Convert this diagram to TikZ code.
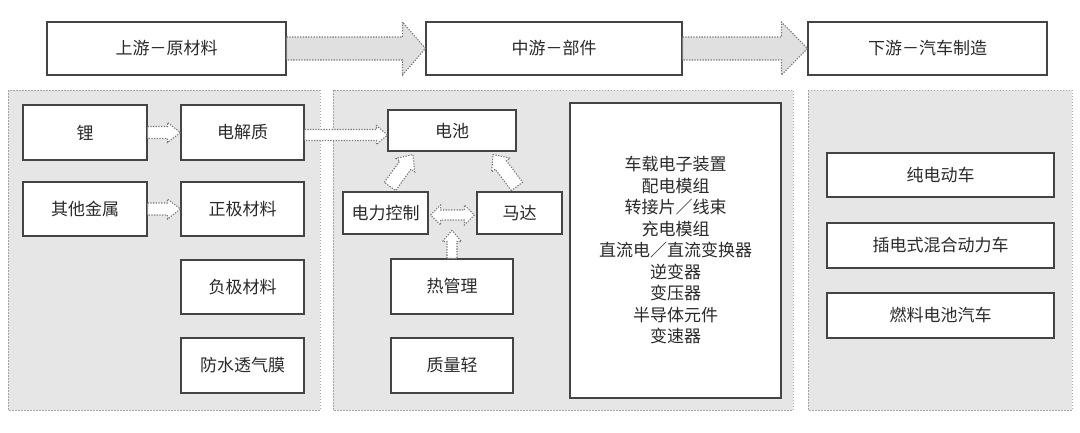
\documentclass[tikz,border=0pt]{standalone}
\usepackage{fontspec}
\setmainfont{Noto Sans CJK SC}
\usetikzlibrary{calc}
\definecolor{panelgray}{HTML}{E6E6E6}
\definecolor{arrowgray}{HTML}{E0E0E0}
\definecolor{txt}{HTML}{2A2A2A}
\definecolor{bord}{HTML}{444444}
\definecolor{dotc}{HTML}{777777}
\tikzset{
  box/.style={draw=bord, line width=1.1pt, fill=white, text=txt, inner sep=0pt,
    font=\fontsize{17}{19}\selectfont},
  panel/.style={draw=gray!70, fill=panelgray, line width=0.7pt, dash pattern=on 1.5pt off 1.5pt},
  blockarrow/.style={fill=white, draw=dotc, line width=1.1pt, dash pattern=on 1.3pt off 1.4pt},
  toparrow/.style={fill=arrowgray, draw=dotc, line width=1.1pt, dash pattern=on 1.3pt off 1.4pt},
}
% #1 style, #2 start, #3 end, #4 shaft half width, #5 head half width, #6 head length
\newcommand\blockarr[6]{%
\path[#1] let \p1=($(#3)-(#2)$), \n1={atan2(\y1,\x1)}, \n2={veclen(\x1,\y1)} in
 ($(#2)+(\n1+90:#4)$) -- ($(#2)+(\n1:{\n2-#6})+(\n1+90:#4)$) -- ($(#2)+(\n1:{\n2-#6})+(\n1+90:#5)$)
 -- (#3) -- ($(#2)+(\n1:{\n2-#6})+(\n1-90:#5)$) -- ($(#2)+(\n1:{\n2-#6})+(\n1-90:#4)$)
 -- ($(#2)+(\n1-90:#4)$) -- cycle;}
\newcommand\dblarr[6]{%
\path[#1] let \p1=($(#3)-(#2)$), \n1={atan2(\y1,\x1)}, \n2={veclen(\x1,\y1)} in
 (#2) -- ($(#2)+(\n1:#6)+(\n1+90:#5)$) -- ($(#2)+(\n1:#6)+(\n1+90:#4)$)
 -- ($(#2)+(\n1:{\n2-#6})+(\n1+90:#4)$) -- ($(#2)+(\n1:{\n2-#6})+(\n1+90:#5)$)
 -- (#3) -- ($(#2)+(\n1:{\n2-#6})+(\n1-90:#5)$) -- ($(#2)+(\n1:{\n2-#6})+(\n1-90:#4)$)
 -- ($(#2)+(\n1:#6)+(\n1-90:#4)$) -- ($(#2)+(\n1:#6)+(\n1-90:#5)$) -- cycle;}
\begin{document}
\begin{tikzpicture}[x=1pt,y=1pt]
\useasboundingbox (0,0) rectangle (1080,-432);
% panels
\path[panel] (8,-90) rectangle (320,-410);
\path[panel] (333,-90) rectangle (793,-410);
\path[panel] (808,-90) rectangle (1072,-410);
% top row
\node[box, minimum width=239pt, minimum height=53pt] (up) at (166.5,-48.5) {上游－原材料};
\node[box, minimum width=256pt, minimum height=53pt] (mid) at (554,-48.5) {中游－部件};
\node[box, minimum width=239pt, minimum height=53pt] (down) at (927.5,-48.5) {下游－汽车制造};
\blockarr{toparrow}{up.east}{mid.west}{11.5}{26.5}{23}
\blockarr{toparrow}{mid.east}{down.west}{11.5}{26.5}{26}
% left panel
\node[box, minimum width=124pt, minimum height=55pt] (li) at (85,-132.5) {锂};
\node[box, minimum width=123pt, minimum height=55pt] (dj) at (242.5,-132.5) {电解质};
\node[box, minimum width=124pt, minimum height=54pt] (qt) at (85,-209) {其他金属};
\node[box, minimum width=123pt, minimum height=54pt] (zj) at (242.5,-209) {正极材料};
\node[box, minimum width=123pt, minimum height=54pt] (fj) at (242.5,-287) {负极材料};
\node[box, minimum width=123pt, minimum height=55pt] (fs) at (242.5,-365.5) {防水透气膜};
\blockarr{blockarrow}{li.east}{dj.west}{6}{10}{13}
\blockarr{blockarrow}{qt.east}{zj.west}{6}{10}{13}
% middle panel
\node[box, minimum width=128pt, minimum height=41pt] (bat) at (452,-130.5) {电池};
\node[box, minimum width=85pt, minimum height=42pt] (pc) at (385.5,-213) {电力控制};
\node[box, minimum width=85pt, minimum height=42pt] (mo) at (519.5,-213) {马达};
\node[box, minimum width=122pt, minimum height=55pt] (th) at (452,-286.5) {热管理};
\node[box, minimum width=122pt, minimum height=55pt] (lt) at (452,-365.5) {质量轻};
\node[box, minimum width=211pt, minimum height=295pt, align=center,
  font=\fontsize{17}{21.5}\selectfont] (parts) at (675.5,-250.5)
  {车载电子装置\\配电模组\\转接片／线束\\充电模组\\直流电／直流变换器\\逆变器\\变压器\\半导体元件\\变速器};
\coordinate (djb) at ($(dj.east)+(0,-2.5)$);
\coordinate (batin) at (bat.west |- djb);
\blockarr{blockarrow}{djb}{batin}{5.5}{9.5}{11}
\coordinate (pcs) at ($(pc.north)+(4.5,5)$);
\coordinate (pce) at ($(bat.south)+(-39,-3)$);
\blockarr{blockarrow}{pcs}{pce}{7}{11.5}{13}
\coordinate (mos) at ($(mo.north)+(-2.5,5)$);
\coordinate (moe) at ($(bat.south)+(41,-3)$);
\blockarr{blockarrow}{mos}{moe}{7}{11.5}{13}
\coordinate (pcr) at ($(pc.east)+(2,-2)$);
\coordinate (mol) at ($(mo.west)+(-2,-2)$);
\dblarr{blockarrow}{pcr}{mol}{5}{10}{10}
\coordinate (ths) at (th.north);
\coordinate (the) at ($(th.north)+(0,28)$);
\blockarr{blockarrow}{ths}{the}{5}{9.5}{11}
% right panel
\node[box, minimum width=227pt, minimum height=44pt] (ev) at (940.5,-175) {纯电动车};
\node[box, minimum width=227pt, minimum height=45pt] (phev) at (940.5,-245.5) {插电式混合动力车};
\node[box, minimum width=227pt, minimum height=45pt] (fcv) at (940.5,-315.5) {燃料电池汽车};
\end{tikzpicture}
\end{document}
